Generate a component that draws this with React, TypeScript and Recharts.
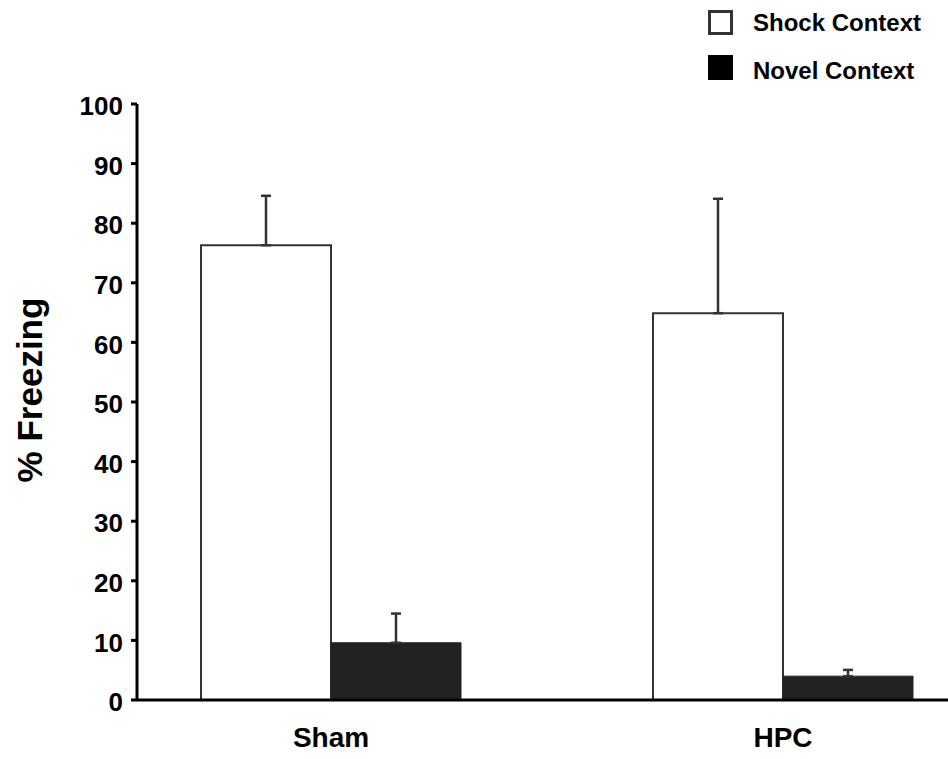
import React from 'react';
import { BarChart, Bar, XAxis, YAxis, ErrorBar } from 'recharts';

const categories = ['Sham', 'HPC'];
const shockValues = [76.3, 64.9];
const shockErrors = [8.3, 19.2];
const novelValues = [9.6, 4.0];
const novelErrors = [4.9, 1.05];
const yTicks = [0, 10, 20, 30, 40, 50, 60, 70, 80, 90, 100];
const seriesNames = ['Shock Context', 'Novel Context'];

const data = categories.map((c, i) => ({
  name: c,
  shock: shockValues[i],
  shockErr: [0, shockErrors[i]],
  novel: novelValues[i],
  novelErr: [0, novelErrors[i]],
}));

const FONT = '"Liberation Sans", Arial, Helvetica, sans-serif';

export default function App() {
  return (
    <div style={{ position: 'absolute', left: 0, top: 0, width: 948, height: 759, background: '#fff', fontFamily: FONT }}>
      <BarChart
        width={948}
        height={759}
        data={data}
        margin={{ top: 104, right: 0, left: 57, bottom: 9 }}
        barGap={0}
        barSize={130}
      >
        <XAxis
          dataKey="name"
          padding={{ left: -32, right: -61 }}
          axisLine={{ stroke: '#000', strokeWidth: 3 }}
          tickLine={false}
          tickSize={6}
          tickMargin={21}
          height={50}
          tick={{ fill: '#000', fontSize: 28, fontWeight: 'bold', fontFamily: FONT }}
        />
        <YAxis
          width={80}
          domain={[0, 100]}
          ticks={yTicks}
          interval={0}
          axisLine={{ stroke: '#000', strokeWidth: 3 }}
          tickLine={{ stroke: '#000', strokeWidth: 3 }}
          tickSize={6}
          tickMargin={8}
          tick={{ fill: '#000', fontSize: 26, fontWeight: 'bold', fontFamily: FONT, dy: 2 }}
        />
        <Bar dataKey="shock" fill="#fff" stroke="#333" strokeWidth={2} isAnimationActive={false}>
          <ErrorBar dataKey="shockErr" width={5} stroke="#333" strokeWidth={2.5} direction="y" />
        </Bar>
        <Bar dataKey="novel" fill="#222" stroke="#222" strokeWidth={1} isAnimationActive={false}>
          <ErrorBar dataKey="novelErr" width={5} stroke="#333" strokeWidth={2.5} direction="y" />
        </Bar>
      </BarChart>

      <div
        style={{
          position: 'absolute',
          left: 29,
          top: 390,
          transform: 'translate(-50%, -50%) rotate(-90deg)',
          whiteSpace: 'nowrap',
          fontSize: 35,
          fontWeight: 'bold',
          color: '#000',
          lineHeight: 1,
        }}
      >
        % Freezing
      </div>

      <div style={{ position: 'absolute', left: 708, top: 10, width: 25, height: 25, boxSizing: 'border-box', border: '3px solid #333', background: '#fff' }} />
      <div style={{ position: 'absolute', left: 753, top: 10, fontSize: 24, fontWeight: 'bold', color: '#000', lineHeight: '26px', whiteSpace: 'nowrap' }}>
        {seriesNames[0]}
      </div>
      <div style={{ position: 'absolute', left: 708, top: 55, width: 25, height: 25, background: '#000' }} />
      <div style={{ position: 'absolute', left: 753, top: 58, fontSize: 24, fontWeight: 'bold', color: '#000', lineHeight: '26px', whiteSpace: 'nowrap' }}>
        {seriesNames[1]}
      </div>
    </div>
  );
}
